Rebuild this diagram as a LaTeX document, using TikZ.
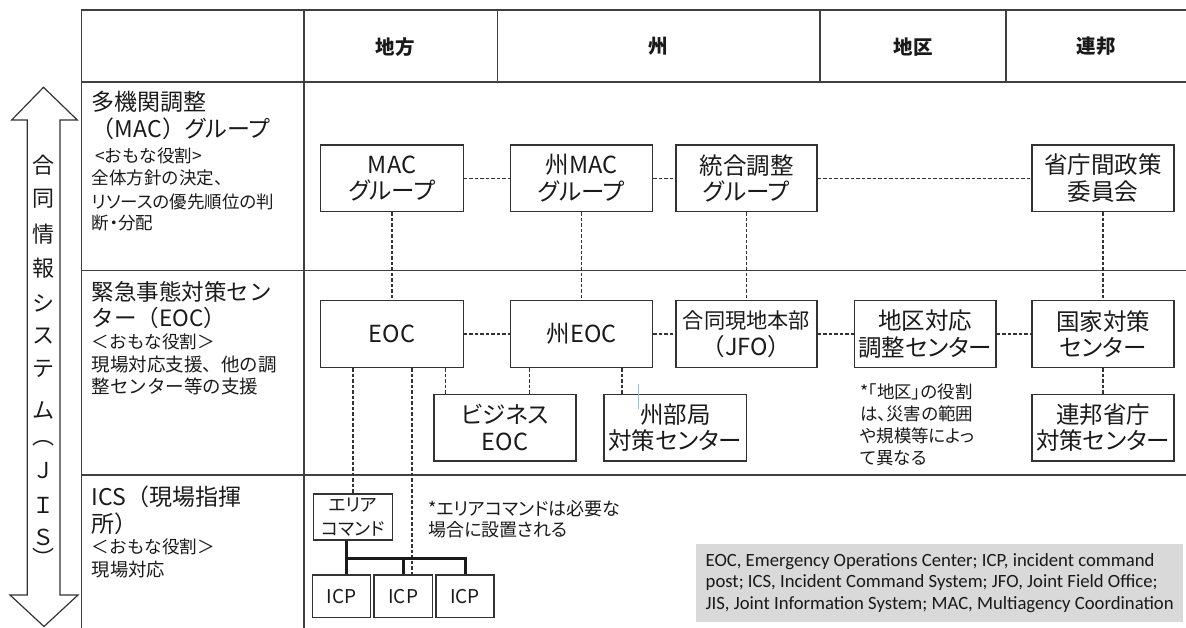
\documentclass[tikz,border=0pt]{standalone}
\usepackage{fontspec}
\newfontfamily\jp{Noto Sans CJK JP}
\newfontfamily\jpp{Noto Sans CJK JP}[RawFeature=+palt]
\newfontfamily\legfont{Carlito}
\definecolor{linec}{HTML}{404040}
\definecolor{boxc}{HTML}{333333}
\definecolor{txtc}{HTML}{1A1A1A}
\definecolor{legc}{HTML}{D9D9D9}
\definecolor{strayc}{HTML}{A7BCD8}
\newcommand{\fsz}[2]{\fontsize{#1}{#2}\selectfont}
\tikzset{
  tbl/.style={draw=linec, line width=1.3pt},
  box/.style={draw=boxc, line width=1.3pt, fill=white, inner sep=0pt, align=center, text=txtc,
              minimum width=142pt, minimum height=66.7pt, font=\jpp\fsz{23.5}{26.5}},
  small/.style={draw=boxc, line width=1.3pt, fill=white, inner sep=0pt, align=center, text=txtc},
  dsh/.style={draw=boxc, line width=1.2pt, dash pattern=on 3.5pt off 2pt},
  tree/.style={draw=txtc, line width=3pt, line join=miter},
  hdr/.style={inner sep=0pt, text=txtc, font=\jp\bfseries\fsz{19.5}{22}},
  lt/.style={anchor=west, inner sep=0pt, text=txtc},
  vt/.style={inner sep=0pt, text=txtc, font=\jp\fsz{22}{24}},
  note/.style={anchor=west, inner sep=0pt, align=left, text=txtc}
}
\begin{document}
\begin{tikzpicture}[x=1pt, y=-1pt]
\useasboundingbox (0,0) rectangle (1186,628);
% table grid
\draw[tbl] (81.7,628) -- (81.7,10) -- (1186,10);
\draw[tbl] (304,10) -- (304,628);
\foreach \x in {497.7,820,1006} \draw[tbl] (\x,10) -- (\x,82);
\foreach \y in {82,270.5,475} \draw[tbl] (81.7,\y) -- (1186,\y);
% header
\node[hdr] (h1) at (395,46.7) {地方};
\node[hdr] (h2) at (658.7,46.7) {州};
\node[hdr] (h3) at (913,46.7) {地区};
\node[hdr] (h4) at (1096,46.7) {連邦};
% double arrow
\draw[draw=boxc, line width=1.2pt, line join=miter]
  (43.5,87.3) -- (77.3,120) -- (60,120) -- (60,595) -- (78,595) -- (44,626.5)
  -- (10,595) -- (27.3,595) -- (27.3,120) -- (11.7,120) -- cycle;
\foreach \c/\y [count=\i] in {合/165,同/199,情/234,報/268,シ/303,ス/336,テ/369,ム/410,︵/443,Ｊ/471,Ｉ/505,Ｓ/537,︶/557}
  \node[vt] (v\i) at (43.5,\y) {\c};
% left column: MAC
\node[lt, font=\jp\fsz{23}{26}] (m1) at (91.7,101.7) {多機関調整};
\node[lt, font=\jp\fsz{23}{26}] (m2) at (91.7,129) {（MAC）{\jpp グループ}};
\node[lt, font=\jp\fsz{17.5}{20}] (m3) at (95,156) {<おもな役割>};
\node[lt, font=\jp\fsz{17.5}{20}] (m4) at (91.7,178.3) {全体方針の決定、};
\node[lt, font=\jpp\fsz{17.5}{20}] (m5) at (91.7,201.7) {リソースの優先順位の判};
\node[lt, font=\jpp\fsz{17.5}{20}] (m6) at (91.7,223) {断・分配};
% left column: EOC
\node[lt, font=\jp\fsz{22.5}{26}] (e1) at (91.7,291.7) {緊急事態対策セン};
\node[lt, font=\jp\fsz{22.5}{26}] (e2) at (91.7,318.3) {ター（EOC）};
\node[lt, font=\jp\fsz{17.6}{20}] (e3) at (91.7,341.7) {＜おもな役割＞};
\node[lt, font=\jp\fsz{18.5}{20}] (e4) at (91.7,365) {現場対応支援、他の調};
\node[lt, font=\jp\fsz{18.5}{20}] (e5) at (91.7,386.7) {整センター等の支援};
% left column: ICS
\node[lt, font=\jp\fsz{23}{26}] (i1) at (91.7,496.7) {ICS（現場指揮};
\node[lt, font=\jp\fsz{23}{26}] (i2) at (91.7,523.3) {所）};
\node[lt, font=\jp\fsz{17.6}{20}] (i3) at (91.7,547.3) {＜おもな役割＞};
\node[lt, font=\jp\fsz{18.3}{20}] (i4) at (91.7,570) {現場対応};
% boxes row MAC
\node[box, minimum width=142.6pt] (mac) at (392,178.3) {MAC\\グループ};
\node[box] (smac) at (581.7,178.3) {州MAC\\グループ};
\node[box, minimum width=141pt] (togo) at (746.5,178.3) {統合調整\\グループ};
\node[box] (shocho) at (1103,178.3) {省庁間政策\\委員会};
% boxes row EOC
\node[box, minimum width=142.6pt] (eoc) at (392,334) {EOC};
\node[box] (seoc) at (581.7,334) {州EOC};
\node[box, minimum width=141pt] (jfo) at (746.5,334) {{\fsz{21.2}{24}合同現地本部}\\{\jp （JFO）}};
\node[box, minimum width=141.7pt] (chiku) at (925.2,334) {地区対応\\調整センター};
\node[box] (kokka) at (1103,334) {国家対策\\センター};
\node[box] (biz) at (505,427.7) {ビジネス\\EOC};
\node[box, minimum width=142.7pt] (shubu) at (675.3,427.7) {州部局\\対策センター};
\node[box] (renpo) at (1103,427.7) {連邦省庁\\対策センター};
% ICS boxes
\node[small, minimum width=79.4pt, minimum height=46pt, font=\jpp\fsz{18}{23.4}] (area) at (353,517) {エリア\\コマンド};
\node[small, minimum width=58pt, minimum height=42.3pt, font=\jp\fsz{19}{22}] (icp1) at (341.7,596.2) {ICP};
\node[small, minimum width=58.3pt, minimum height=42.3pt, font=\jp\fsz{19}{22}] (icp2) at (403.2,596.2) {ICP};
\node[small, minimum width=58pt, minimum height=42.3pt, font=\jp\fsz{19}{22}] (icp3) at (465,596.2) {ICP};
% notes
\node[note, font=\jpp\fsz{17.5}{22}] (n1) at (860,424.5) {*「地区」の役割\\は、災害の範囲\\や規模等によっ\\て異なる};
\node[note, font=\jpp\fsz{18}{21}] (n2) at (428,519.5) {*エリアコマンドは必要な\\場合に設置される};
% legend
\fill[legc] (696,544) rectangle (1182.7,621.7);
\node[note, font=\legfont\fsz{18.7}{21.2}, text=black!90] (leg) at (705.5,583) {EOC, Emergency Operations Center; ICP, incident command\\post; ICS, Incident Command System; JFO, Joint Field Office;\\JIS, Joint Information System; MAC, Multiagency Coordination};
% helper coordinates
\coordinate (c1) at (412,0);
\coordinate (c2) at (445.3,0);
\coordinate (c3) at (529.3,0);
\coordinate (c4) at (622,0);
\coordinate (tj) at (346,558.3);
% dashed connectors
\draw[dsh] (mac.east) -- (smac.west);
\draw[dsh] (smac.east) -- (togo.west);
\draw[dsh] (togo.east) -- (shocho.west);
\draw[dsh] (mac.south) -- (eoc.north);
\draw[dsh] (smac.south) -- (seoc.north);
\draw[dsh] (togo.south) -- (jfo.north);
\draw[dsh] (shocho.south) -- (kokka.north);
\draw[dsh] (eoc.east) -- (seoc.west);
\draw[dsh] (seoc.east) -- (jfo.west);
\draw[dsh] (jfo.east) -- (chiku.west);
\draw[dsh] (chiku.east) -- (kokka.west);
\draw[dsh] (kokka.south) -- (renpo.north);
\draw[dsh] (area.north |- eoc.south) -- (area.north);
\draw[dsh] (eoc.south -| c1) -- (icp2.north -| c1);
\draw[dsh] (eoc.south -| c2) -- (biz.north -| c2);
\draw[dsh] (seoc.south -| c3) -- (biz.north -| c3);
\draw[dsh] (seoc.south -| c4) -- (shubu.north -| c4);
% tree
\draw[tree] (area.south -| tj) -- (icp1.north -| tj);
\draw[tree] (tj) -- (tj -| icp3.north) -- (icp3.north);
\draw[tree] (tj -| icp2.north) -- (icp2.north);
% stray mark
\draw[strayc, line width=0.9pt] (638.7,384) -- (638.7,409.3);
\end{tikzpicture}
\end{document}
